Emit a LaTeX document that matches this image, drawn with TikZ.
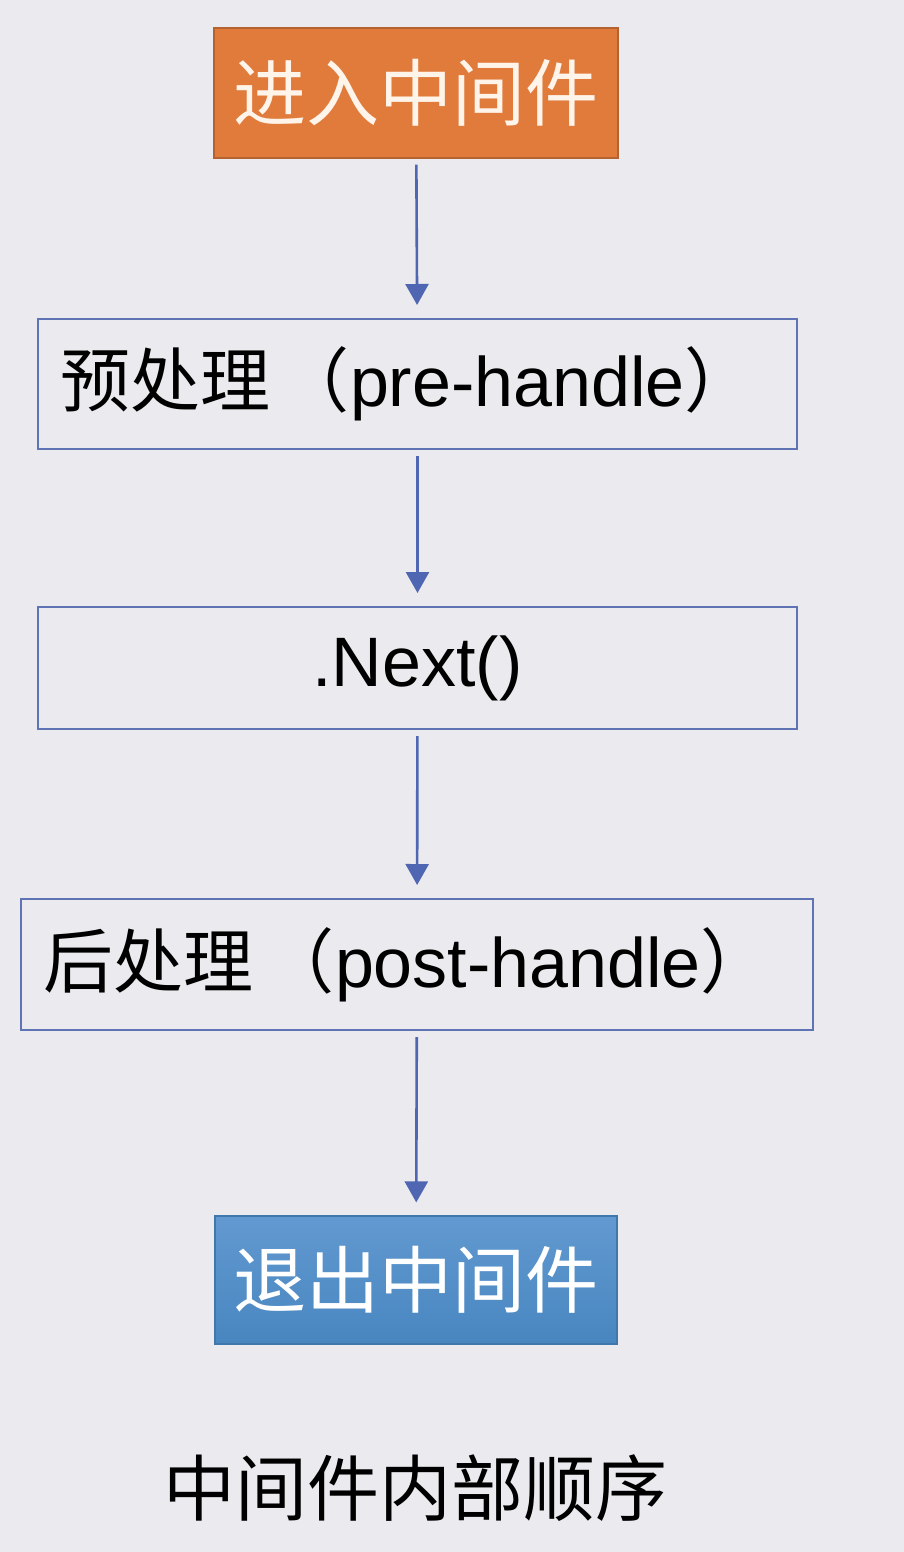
\documentclass[tikz,border=0pt]{standalone}
\usepackage{fontspec}
\setmainfont{Liberation Sans}
\newfontfamily\cjk{Noto Sans CJK SC}
\usetikzlibrary{arrows.meta}
\definecolor{bgc}{HTML}{EBEAEE}
\definecolor{orangec}{HTML}{E07B3C}
\definecolor{bluec}{HTML}{4C8DCA}
\definecolor{bluetop}{HTML}{6299D0}
\definecolor{framec}{HTML}{5E74B4}
\definecolor{arrowc}{HTML}{4F66B2}
\definecolor{txtlight}{HTML}{FFF4EA}
\tikzset{
  colorbox/.style={draw=#1!80!black, line width=1.2pt, fill=#1, minimum width=404pt, minimum height=130pt, inner sep=0pt, text=txtlight, font=\cjk\fontsize{73}{80}\selectfont},
  framebox/.style={draw=framec, line width=2pt, fill=bgc, inner ysep=0pt, inner xsep=22pt, align=left, font=\fontsize{70}{78}\selectfont},
  flow/.style={draw=arrowc, line width=2.6pt, -{Triangle[width=23pt,length=21pt]}, shorten <=6pt, shorten >=13pt}
}
\begin{document}
\begin{tikzpicture}[x=1pt,y=-1pt]
\fill[bgc] (0,0) rectangle (904,1552);
\useasboundingbox (0,0) rectangle (904,1552);
\node[colorbox=orangec] (enter) at (416,93) {进入中间件};
\node[framebox, text width=715pt, minimum height=130pt] (pre) at (417.5,384) {{\cjk 预处理\kern10pt（}pre-handle{\cjk ）}};
\node[framebox, align=center, text width=715pt, minimum height=122pt] (next) at (417.5,668) {.Next()};
\node[framebox, text width=748pt, minimum height=131pt] (post) at (417,964.5) {{\cjk 后处理\kern12pt（}post-handle{\cjk ）}};
\node[colorbox=bluec, draw=bluec!85!black, top color=bluetop, bottom color=bluec!95!black, text=white, minimum width=402pt, minimum height=128pt] (exit) at (416,1280) {退出中间件};
\node[font=\cjk\fontsize{72}{80}\selectfont, text=black, inner sep=0pt] (caption) at (415,1488) {中间件内部顺序};
\draw[flow] (enter) -- (pre);
\draw[flow] (pre) -- (next);
\draw[flow] (next) -- (post);
\draw[flow] (post) -- (exit);
\end{tikzpicture}
\end{document}
